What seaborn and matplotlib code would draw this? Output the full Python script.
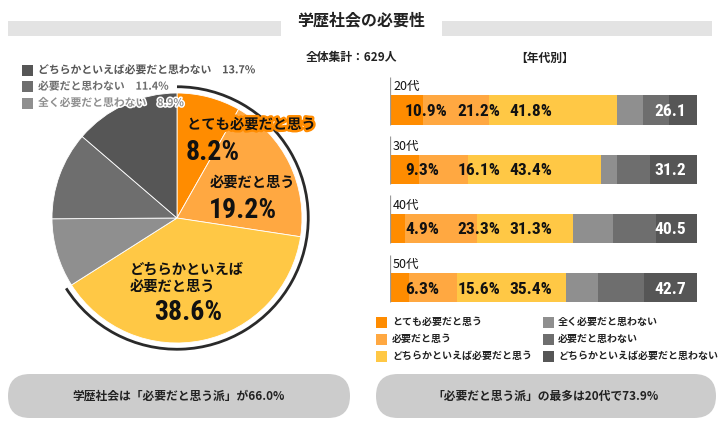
import numpy as np
import pandas as pd
import matplotlib
matplotlib.use("Agg")
import matplotlib.pyplot as plt
import seaborn as sns
from matplotlib.patches import FancyBboxPatch, Rectangle, Arc
import matplotlib.patheffects as pe

# ---------------- data ----------------
categories = ["とても必要だと思う", "必要だと思う", "どちらかといえば必要だと思う",
              "全く必要だと思わない", "必要だと思わない", "どちらかといえば必要だと思わない"]
overall = [8.2, 19.2, 38.6, 8.9, 11.4, 13.7]
ages = ["20代", "30代", "40代", "50代"]
very_needed = [10.9, 9.3, 4.9, 6.3]
needed = [21.2, 16.1, 23.3, 15.6]
somewhat_needed = [41.8, 43.4, 31.3, 35.4]
not_at_all = [8.4, 5.3, 13.1, 10.6]
not_needed = [8.6, 10.5, 14.1, 14.8]
somewhat_not = [9.1, 15.4, 13.3, 17.3]
not_needed_total = [26.1, 31.2, 40.5, 42.7]
title = "学歴社会の必要性"
total_text = "全体集計：629人"
age_text = "【年代別】"
summary_left = "学歴社会は「必要だと思う派」が66.0%"
summary_right = "「必要だと思う派」の最多は20代で73.9%"

colors = ["#FF8C00", "#FFA841", "#FFC845", "#8F8F8F", "#6E6E6E", "#565656"]

sns.set_theme(style="white")
plt.rcParams["font.family"] = ["Noto Sans CJK JP", "DejaVu Sans"]
NUM = ["Roboto Condensed", "DejaVu Sans"]

W, H = 722, 429
fig = plt.figure(figsize=(W / 100, H / 100), dpi=100)

# background overlay axes in pixel coordinates
bg = fig.add_axes([0, 0, 1, 1], zorder=0)
bg.set_xlim(0, W)
bg.set_ylim(H, 0)
bg.axis("off")

# title band
bg.add_patch(Rectangle((8, 21), 704, 15, color="#E3E3E3", lw=0))
bg.add_patch(Rectangle((281, 10), 161, 30, color="white", lw=0))
bg.text(361, 20, title, ha="center", va="center", fontsize=11.5, fontweight="bold", color="#222222")

bg.text(352, 58, total_text, ha="center", va="center", fontsize=8.5, fontweight="bold", color="#222222")
bg.text(545, 58, age_text, ha="center", va="center", fontsize=8.5, fontweight="bold", color="#222222")

# bottom pills
for x0, x1, txt in [(8, 350, summary_left), (376, 716, summary_right)]:
    bg.add_patch(FancyBboxPatch((x0, 374), x1 - x0, 44,
                                boxstyle="round,pad=0,rounding_size=22",
                                fc="#CCCCCC", ec="none"))
    bg.text((x0 + x1) / 2, 396, txt, ha="center", va="center", fontsize=8.5,
            fontweight="bold", color="#222222")

# bar legend
leg_rows = [322, 339, 356]
for col, (xs, xt, ks) in enumerate([(376, 392, [0, 1, 2]), (543, 558, [3, 4, 5])]):
    for r, k in enumerate(ks):
        y = leg_rows[r]
        bg.add_patch(Rectangle((xs, y - 5.5), 11, 11, color=colors[k], lw=0))
        bg.text(xt, y, categories[k], ha="left", va="center", fontsize=7.2,
                fontweight="bold", color="#222222")

# ---------------- pie ----------------
cx, cy, R = 177, 218, 125
half = 140
axp = fig.add_axes([(cx - half) / W, (H - cy - half) / H, 2 * half / W, 2 * half / H], zorder=2)
axp.pie(overall, colors=colors, startangle=90, counterclock=False,
        wedgeprops=dict(edgecolor="white", linewidth=0.6))
lim = half / R
axp.set_xlim(-lim, lim)
axp.set_ylim(-lim, lim)
axp.set_aspect("equal")
axp.axis("off")
end_angle = 90 - 360 * sum(overall[:3]) / 100
axp.add_patch(Arc((0, 0), 2.1, 2.1, theta1=end_angle, theta2=90, color="#2a2a2a", lw=2.0))


def px(x, y):
    return (x - cx) / R, (cy - y) / R


t = axp.text(*px(187, 125), categories[0], ha="left", va="center", fontsize=10.3,
             fontweight="bold", color="#111111")
t.set_path_effects([pe.withStroke(linewidth=3.5, foreground="#FF8C00")])
axp.text(*px(186, 152), f"{overall[0]}%", ha="left", va="center", fontsize=20,
         fontweight="bold", family=NUM, color="#111111")
axp.text(*px(210, 183), categories[1], ha="left", va="center", fontsize=10.3,
         fontweight="bold", color="#111111")
axp.text(*px(209, 210), f"{overall[1]}%", ha="left", va="center", fontsize=20,
         fontweight="bold", family=NUM, color="#111111")
axp.text(*px(130, 270), "どちらかといえば", ha="left", va="center", fontsize=10.3,
         fontweight="bold", color="#111111")
axp.text(*px(130, 287), "必要だと思う", ha="left", va="center", fontsize=10.3,
         fontweight="bold", color="#111111")
axp.text(*px(154, 312), f"{overall[2]}%", ha="left", va="center", fontsize=20,
         fontweight="bold", family=NUM, color="#111111")

# upper-left legend (on top of the pie)
top = fig.add_axes([0, 0, 1, 1], zorder=5)
top.set_xlim(0, W)
top.set_ylim(H, 0)
top.axis("off")
top.patch.set_alpha(0)
for i, k in enumerate([5, 4, 3]):
    y = 70 + i * 16.5
    top.add_patch(Rectangle((22, y - 5.5), 11, 11, color=colors[k], lw=0))
    tt = top.text(38, y, f"{categories[k]}　{overall[k]}%", ha="left", va="center",
                  fontsize=7.8, fontweight="bold", color=colors[k])
    tt.set_path_effects([pe.withStroke(linewidth=2.2, foreground="white")])

# ---------------- stacked bars ----------------
bx0, bx1, by0, by1 = 390, 697, 75, 305
axb = fig.add_axes([bx0 / W, (H - by1) / H, (bx1 - bx0) / W, (by1 - by0) / H], zorder=2)
segs = np.array([very_needed, needed, somewhat_needed, not_at_all, not_needed, somewhat_not])
cum = np.cumsum(segs, axis=0)
for k in reversed(range(6)):
    df = pd.DataFrame({"age": ages, "value": cum[k]})
    sns.barplot(data=df, x="value", y="age", orient="h", color=colors[k], saturation=1,
                width=0.49, edgecolor="none", linewidth=0, ax=axb)
step = 59.3
axb.set_xlim(0, 100)
axb.set_ylim((by1 - 110) / step, (by0 - 110) / step)
axb.axis("off")
axb.patch.set_alpha(0)

lab_x = [4.9, 22.1, 38.9]
for i, a in enumerate(ages):
    axb.vlines(0.15, i - 0.56, i + 0.245, color="#9A9A9A", lw=0.9)
    axb.text(1.0, i - 0.39, a, ha="left", va="center", fontsize=9, color="#111111")
    for j, arr in enumerate([very_needed, needed, somewhat_needed]):
        axb.text(lab_x[j], i + 0.02, f"{arr[i]}%", ha="left", va="center", fontsize=12.5,
                 fontweight="bold", family=NUM, color="#111111")
    axb.text(96.3, i + 0.02, f"{not_needed_total[i]}", ha="right", va="center", fontsize=12.5,
             fontweight="bold", family=NUM, color="white")

fig.savefig("out.png", dpi=100)
